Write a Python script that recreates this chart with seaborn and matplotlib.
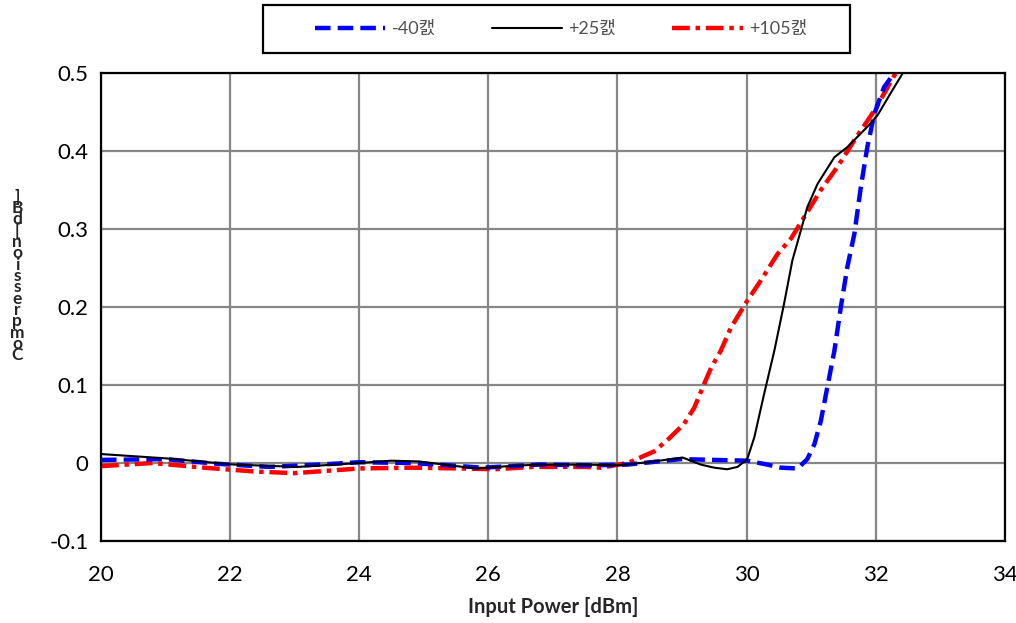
import matplotlib
matplotlib.use("Agg")
import matplotlib.pyplot as plt
import matplotlib.patches as mpatches
import seaborn as sns
import pandas as pd

sns.set_theme(style="white")
plt.rcParams['font.family'] = ['Lato', 'Noto Sans CJK KR', 'DejaVu Sans']

# ---- data ----
x_m40 = [20.0, 21.0, 21.8, 22.6, 23.4, 24.0, 24.8, 25.4, 25.9, 26.8, 27.6, 28.16, 28.98, 30.01, 30.32,
         30.53, 30.79, 30.94, 31.05, 31.15, 31.25, 31.36, 31.46, 31.56, 31.67, 31.77, 31.87, 31.98,
         32.13, 32.29, 32.4]
y_m40 = [0.004, 0.005, -0.001, -0.005, -0.002, 0.001, 0.0, -0.003, -0.006, -0.002, -0.003, -0.002, 0.005,
         0.003, -0.002, -0.006, -0.007, 0.005, 0.024, 0.054, 0.097, 0.144, 0.200, 0.251, 0.294, 0.354,
         0.405, 0.448, 0.482, 0.500, 0.515]

x_p25 = [20.0, 21.0, 22.06, 23.05, 24.0, 24.5, 24.93, 25.4, 25.82, 26.3, 26.76, 27.48, 28.0, 28.47,
         29.01, 29.29, 29.50, 29.70, 29.86, 30.01, 30.12, 30.27, 30.43, 30.58, 30.71, 30.84, 30.94,
         31.10, 31.36, 31.56, 31.87, 32.03, 32.23, 32.42, 32.5]
y_p25 = [0.0115, 0.006, -0.002, -0.005, 0.0, 0.003, 0.002, -0.003, -0.007, -0.004, -0.002, -0.002,
         -0.003, 0.001, 0.007, -0.002, -0.006, -0.008, -0.005, 0.005, 0.033, 0.088, 0.144, 0.204, 0.260,
         0.298, 0.328, 0.358, 0.392, 0.405, 0.431, 0.446, 0.474, 0.500, 0.51]

x_p105 = [20.0, 20.8, 21.6, 22.4, 23.0, 23.5, 24.0, 24.8, 25.6, 26.1, 26.7, 27.5, 27.74, 28.16, 28.57,
          28.78, 29.03, 29.19, 29.34, 29.45, 29.60, 29.76, 30.01, 30.22, 30.48, 30.69, 30.89, 31.15,
          31.41, 31.67, 31.98, 32.31, 32.4]
y_p105 = [-0.004, 0.0, -0.006, -0.011, -0.013, -0.010, -0.007, -0.006, -0.007, -0.008, -0.005, -0.005,
          -0.006, 0.0, 0.015, 0.030, 0.050, 0.071, 0.101, 0.122, 0.144, 0.174, 0.208, 0.234, 0.268,
          0.288, 0.315, 0.350, 0.380, 0.414, 0.452, 0.500, 0.512]

labels = ["-40캜", "+25캜", "+105캜"]
x_ticks = [20, 22, 24, 26, 28, 30, 32, 34]
y_ticks = [-0.1, 0, 0.1, 0.2, 0.3, 0.4, 0.5]
y_tick_labels = ["-0.1", "0", "0.1", "0.2", "0.3", "0.4", "0.5"]
x_label = "Input Power [dBm]"
y_label = "Compression [dB]"

# ---- figure ----
fig = plt.figure(figsize=(10.16, 6.23), dpi=100)
ax = fig.add_axes([0.0994, 0.1316, 0.8896, 0.7512])

df1 = pd.DataFrame({"x": x_m40, "y": y_m40})
df2 = pd.DataFrame({"x": x_p25, "y": y_p25})
df3 = pd.DataFrame({"x": x_p105, "y": y_p105})

sns.lineplot(data=df1, x="x", y="y", ax=ax, color="#0000FF", lw=3.2, sort=False,
             label=labels[0], zorder=3)
ax.lines[-1].set_dashes([3.5, 1.6])
sns.lineplot(data=df2, x="x", y="y", ax=ax, color="black", lw=1.5, sort=False,
             label=labels[1], zorder=4)
sns.lineplot(data=df3, x="x", y="y", ax=ax, color="#FF0000", lw=3.2, sort=False,
             label=labels[2], zorder=2)
ax.lines[-1].set_dashes([4.0, 1.3, 1.0, 1.3])

ax.set_xlim(20, 34)
ax.set_ylim(-0.1, 0.5)
ax.set_xticks(x_ticks)
ax.set_yticks(y_ticks)
ax.set_yticklabels(y_tick_labels)
ax.tick_params(axis="both", labelsize=16, length=0, colors="black")
ax.tick_params(axis="x", pad=17)
ax.tick_params(axis="y", pad=9)
ax.grid(True, color="#868686", lw=1.6)
ax.set_axisbelow(True)
for s in ax.spines.values():
    s.set_color("black")
    s.set_linewidth(1.6)
    s.set_visible(True)

ax.set_xlabel(x_label, fontsize=14.5, fontweight="bold", labelpad=9)
ax.set_ylabel("")

# stacked (upright) y-axis label as in reference
stacked = "\n".join(reversed(y_label.replace(" ", "")))
fig.text(0.017, 0.557, stacked, fontsize=12.5, fontweight="bold", ha="center", va="center",
         linespacing=0.64)

ax.get_legend().remove()
handles, labs = ax.get_legend_handles_labels()
leg = fig.legend(handles, labs, loc="center",
                 bbox_to_anchor=(561 / 1016, (623 - 29) / 623),
                 ncol=3, frameon=False, fontsize=13,
                 handlelength=3.9, columnspacing=3.1, handletextpad=0.35,
                 borderpad=0.0, borderaxespad=0)
for t in leg.get_texts():
    t.set_color("#505050")

# legend frame as in reference (wider than its entries)
frame = mpatches.Rectangle((263 / 1016, (623 - 53) / 623), 587 / 1016, 48 / 623,
                           transform=fig.transFigure, fill=False, edgecolor="black", lw=1.6)
fig.add_artist(frame)

fig.savefig("out.png", dpi=100)
